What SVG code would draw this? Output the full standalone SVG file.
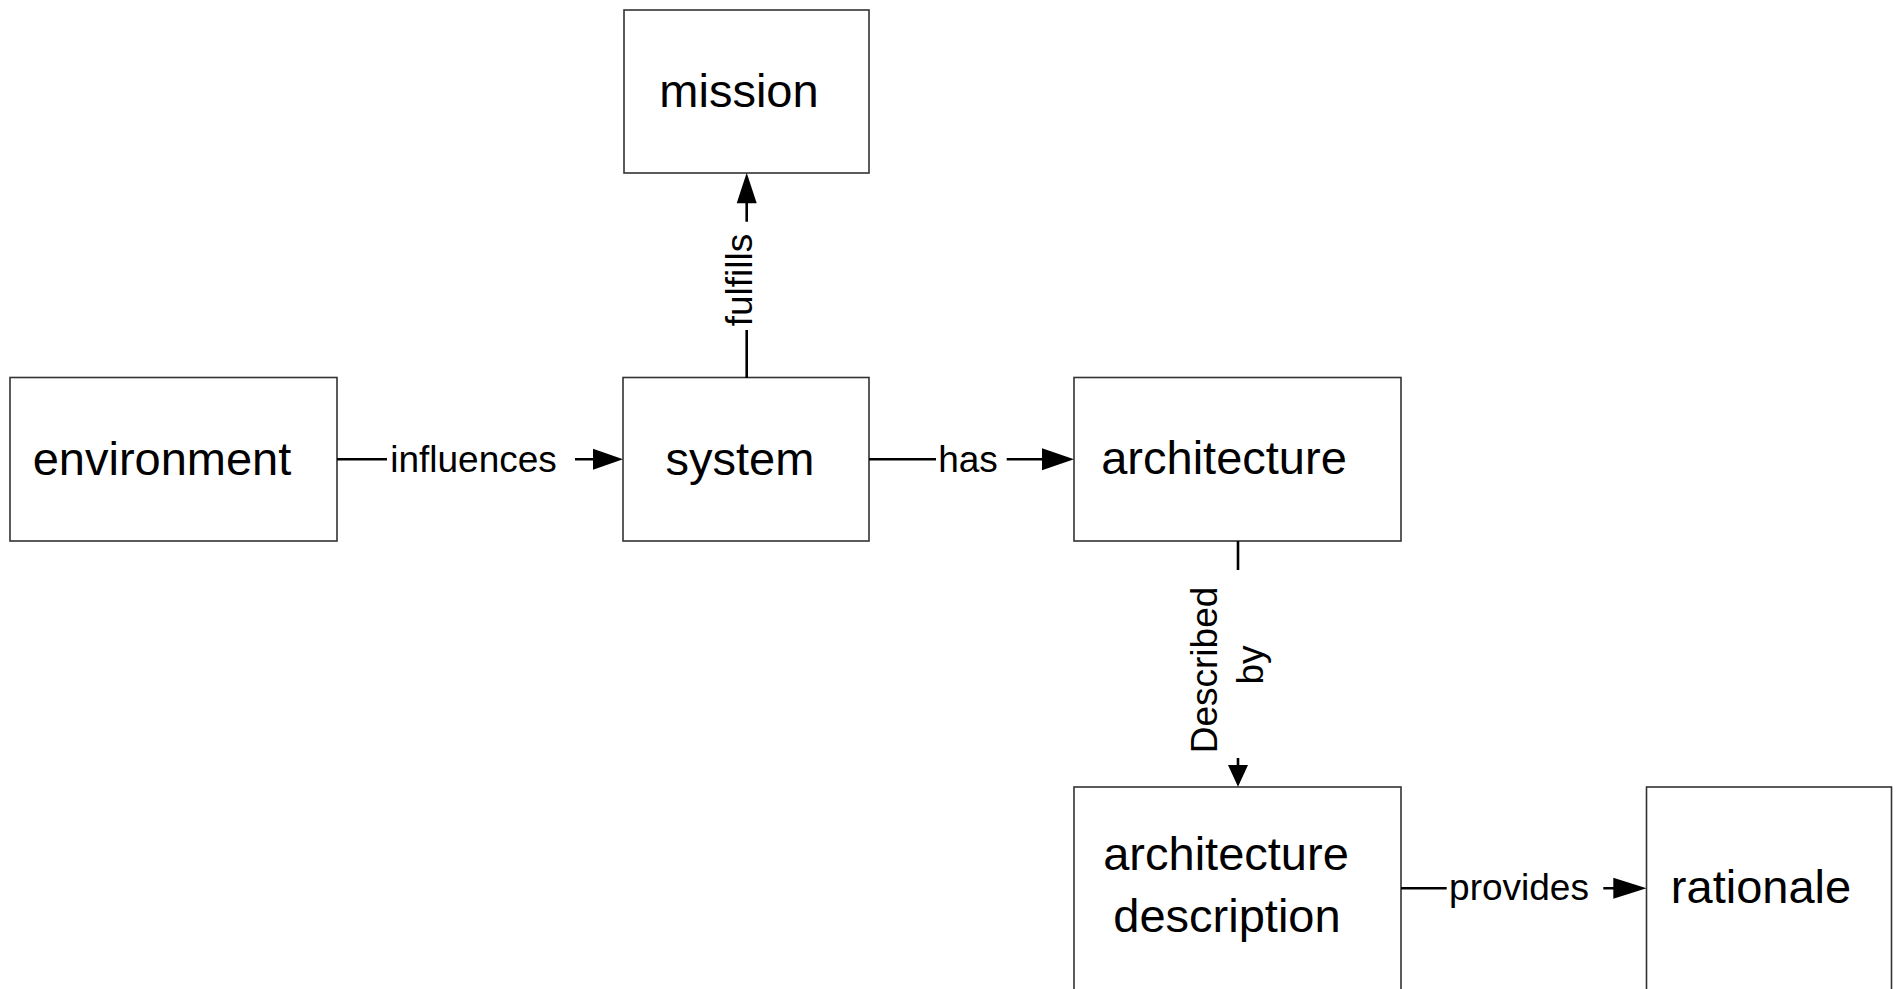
<svg xmlns="http://www.w3.org/2000/svg" width="1896" height="989" viewBox="0 0 1896 989">
<style>
.box{fill:#fff;stroke:#333;stroke-width:1.6}
.big{font-family:"Liberation Sans",Arial,sans-serif;font-size:47px;fill:#000;text-anchor:middle}
.sm{font-family:"Liberation Sans",Arial,sans-serif;font-size:37px;fill:#000;text-anchor:middle}
.ln{stroke:#000;stroke-width:2.6;fill:none}
.ah{fill:#000;stroke:none}
</style>
<rect width="1896" height="989" fill="#fff"/>
<g id="mission"><rect class="box" x="624" y="10" width="245" height="163"/><text class="big" x="739" y="107">mission</text></g>
<g id="environment"><rect class="box" x="10" y="377.5" width="327" height="163.5"/><text class="big" x="162" y="475">environment</text></g>
<g id="system"><rect class="box" x="623" y="377.5" width="246" height="163.5"/><text class="big" x="740" y="475">system</text></g>
<g id="architecture"><rect class="box" x="1074" y="377.5" width="327" height="163.5"/><text class="big" x="1224" y="474">architecture</text></g>
<g id="architecture-description"><rect class="box" x="1074" y="787" width="327" height="220"/><text class="big" x="1226" y="870">architecture</text><text class="big" x="1227" y="932">description</text></g>
<g id="rationale"><rect class="box" x="1646.5" y="787" width="245" height="220"/><text class="big" x="1761" y="903">rationale</text></g>
<g id="connectors">
<g id="c-influences"><path class="ln" d="M337 459.3H387M575 459.3H594"/><polygon class="ah" points="623,459.3 593,448.8 593,469.8"/><text class="sm" x="473.5" y="471.7">influences</text></g>
<g id="c-has"><path class="ln" d="M869 459.3H936M1006.7 459.3H1043"/><polygon class="ah" points="1074,459.3 1042,448.3 1042,470.3"/><text class="sm" x="968" y="471.7">has</text></g>
<g id="c-fulfills"><path class="ln" d="M746.7 378V330M746.7 221.7V202"/><polygon class="ah" points="746.7,172.7 736.7,203.3 756.7,203.3"/><text class="sm" transform="translate(751.7,280) rotate(-90)" x="0" y="0">fulfills</text></g>
<g id="c-described"><path class="ln" d="M1238 541V570M1238 758V766"/><polygon class="ah" points="1238,786.7 1228,765 1248,765"/><text class="sm" transform="translate(1217,670) rotate(-90)" x="0" y="0">Described</text><text class="sm" transform="translate(1263,665) rotate(-90)" x="0" y="0">by</text></g>
<g id="c-provides"><path class="ln" d="M1401 888.3H1446.7M1603.3 888.3H1614"/><polygon class="ah" points="1646.5,888.3 1613.3,877.8 1613.3,898.8"/><text class="sm" x="1519" y="900">provides</text></g>
</g>
</svg>
